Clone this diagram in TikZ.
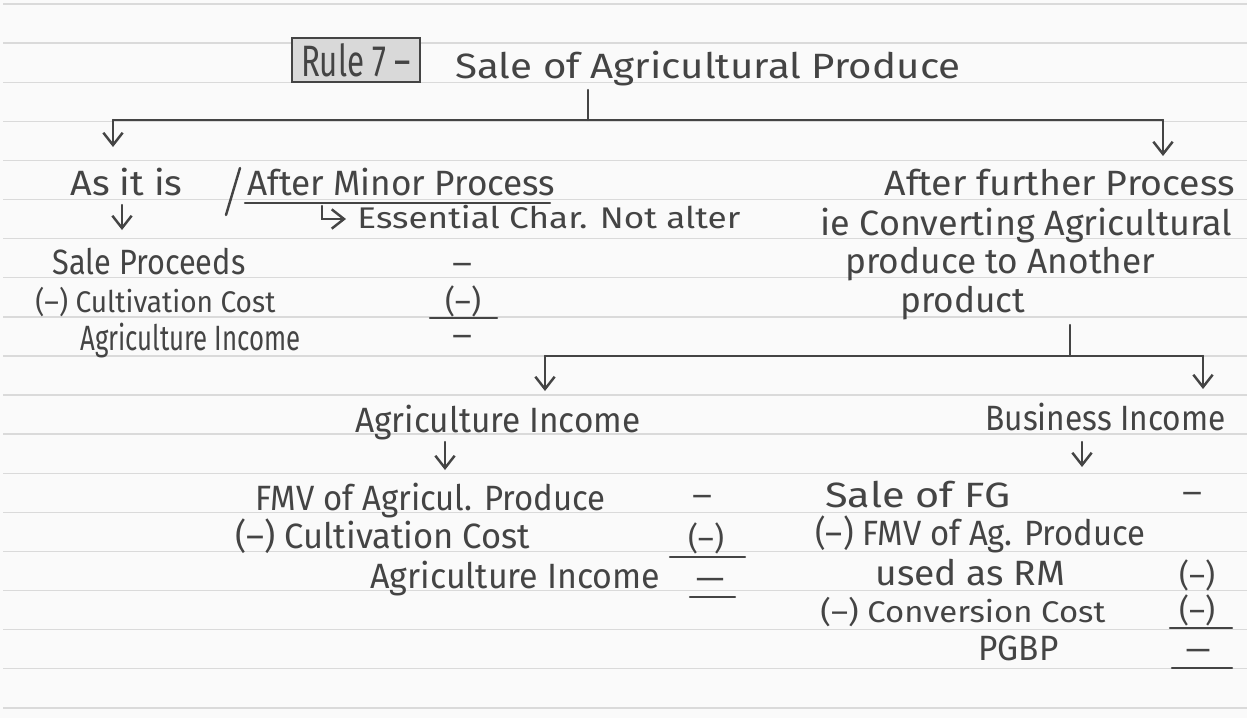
\documentclass[tikz,border=0pt]{standalone}
\usepackage{fontspec}
\setmainfont{Fira Sans}
\usetikzlibrary{arrows.meta}
\newlength\px \setlength\px{0.02cm}
\newcommand\handw[2]{\resizebox{#1\px}{\height}{#2}}
\definecolor{ink}{HTML}{444444}
\definecolor{paper}{HTML}{FAFAFA}
\definecolor{ruling}{HTML}{DADADA}
\definecolor{boxfill}{HTML}{D9D9D9}
\begin{document}
\begin{tikzpicture}[x=0.02cm,y=-0.02cm,
  txt/.style={inner sep=0pt, anchor=base west, text=ink, font=\fontsize{20}{24}\selectfont},
  smalltxt/.style={txt, font=\fontsize{17}{20}\selectfont},
  amt/.style={inner sep=0pt, anchor=base, text=ink, font=\fontsize{18}{20}\selectfont},
  inkline/.style={draw=ink, line width=1.4pt, line cap=round},
  arr/.style={inkline, -{Straight Barb[length=7pt,width=11pt]}},
  ruled/.style={draw=ruling, line width=0.8pt}]
\fill[paper] (0,0) rectangle (1247,718);
\useasboundingbox (0,0) rectangle (1247,718);
\foreach \k in {0,...,18} \draw[ruled] (3,{4+39.1*\k}) -- (1247,{4+39.1*\k});

% title
\node[draw=ink, fill=boxfill, line width=1.2pt, minimum width=2.56cm, minimum height=0.88cm, inner sep=0pt, text=ink, font=\fontsize{25}{28}\selectfont] (rule) at (356,60) {\handw{110}{Rule 7 –}};
\node[txt] (title) at (455,78) {\handw{505}{Sale of Agricultural Produce}};
\coordinate (s1) at (588,90);
\coordinate (j1) at (588,120);
\coordinate (jl) at (113,120);
\coordinate (jr) at (1163,120);
\coordinate (al) at (113,147);
\coordinate (ar) at (1163,156);
\draw[inkline] (s1) -- (j1);
\draw[inkline] (jl) -- (jr);
\draw[arr] (jl) -- (al);
\draw[arr] (jr) -- (ar);

% left branch
\node[txt] (asit) at (70,195) {\handw{112}{As it is}};
\coordinate (sl1) at (240,168);
\coordinate (sl2) at (226,215);
\draw[inkline] (sl1) -- (sl2);
\node[txt] (amp) at (247,195) {\handw{308}{After Minor Process}};
\coordinate (u1) at (245,203);
\coordinate (u2) at (550,203);
\draw[inkline] (u1) -- (u2);
\coordinate (h1) at (322,206);
\coordinate (h2) at (346,219);
\draw[arr] (h1) |- (h2);
\node[smalltxt] (ess) at (357,228) {\handw{383}{Essential Char. Not alter}};
\coordinate (a2s) at (122,205);
\coordinate (a2e) at (122,230);
\draw[arr] (a2s) -- (a2e);

\node[txt] (sp) at (52,274) {\handw{193}{Sale Proceeds}};
\node[amt] (spa) at (462,274) {\handw{20}{–}};
\node[smalltxt] (cc) at (35,312) {\handw{240}{(–) Cultivation Cost}};
\node[amt] (cca) at (463,312) {\handw{36}{(–)}};
\coordinate (l1a) at (430,318);
\coordinate (l1b) at (497,318);
\draw[inkline] (l1a) -- (l1b);
\node[txt] (ai) at (80,350) {\handw{220}{Agriculture Income}};
\node[amt] (aia) at (462,346) {\handw{20}{–}};

% right branch
\node[txt, anchor=base east] (afp) at (1235,195) {\handw{350}{After further Process}};
\node[txt] (conv) at (820,235) {\handw{412}{ie Converting Agricultural}};
\node[txt] (pta) at (845,273) {\handw{310}{produce to Another}};
\node[txt] (prod) at (900,312) {\handw{125}{product}};
\coordinate (s2) at (1070,325);
\coordinate (j2) at (1070,356);
\coordinate (j2l) at (545,356);
\coordinate (j2r) at (1203,356);
\coordinate (b1) at (545,391);
\coordinate (b2) at (1203,389);
\draw[inkline] (s2) -- (j2);
\draw[inkline] (j2l) -- (j2r);
\draw[arr] (j2l) -- (b1);
\draw[arr] (j2r) -- (b2);

% agriculture income
\node[txt] (ai2) at (355,432) {\handw{285}{Agriculture Income}};
\coordinate (c1) at (445,442);
\coordinate (c2) at (445,470);
\draw[arr] (c1) -- (c2);
\node[txt] (fmv) at (255,510) {\handw{350}{FMV of Agricul. Produce}};
\node[amt] (fmva) at (702,506) {\handw{20}{–}};
\node[txt] (cc2) at (235,548) {\handw{295}{(–) Cultivation Cost}};
\node[amt] (cc2a) at (706,549) {\handw{36}{(–)}};
\coordinate (l2a) at (670,557);
\coordinate (l2b) at (745,557);
\draw[inkline] (l2a) -- (l2b);
\node[txt] (ai3) at (370,588) {\handw{290}{Agriculture Income}};
\node[amt] (ai3a) at (710,589) {\handw{30}{–}};
\coordinate (l3a) at (690,597);
\coordinate (l3b) at (735,597);
\draw[inkline] (l3a) -- (l3b);

% business income
\node[txt] (bi) at (985,430) {\handw{240}{Business Income}};
\coordinate (d1) at (1082,442);
\coordinate (d2) at (1082,467);
\draw[arr] (d1) -- (d2);
\node[txt] (sfg) at (825,507) {\handw{185}{Sale of FG}};
\node[amt] (sfga) at (1192,503) {\handw{20}{–}};
\node[txt] (fmv2) at (815,545) {\handw{330}{(–) FMV of Ag. Produce}};
\node[txt] (rm) at (875,585) {\handw{190}{used as RM}};
\node[amt] (rma) at (1197,586) {\handw{36}{(–)}};
\node[smalltxt] (conc) at (820,622) {\handw{285}{(–) Conversion Cost}};
\node[amt] (conca) at (1197,621) {\handw{36}{(–)}};
\coordinate (l4a) at (1170,628);
\coordinate (l4b) at (1232,628);
\draw[inkline] (l4a) -- (l4b);
\node[txt] (pgbp) at (978,660) {\handw{80}{PGBP}};
\node[amt] (pgbpa) at (1198,660) {\handw{26}{–}};
\coordinate (l5a) at (1172,668);
\coordinate (l5b) at (1232,668);
\draw[inkline] (l5a) -- (l5b);
\end{tikzpicture}
\end{document}
